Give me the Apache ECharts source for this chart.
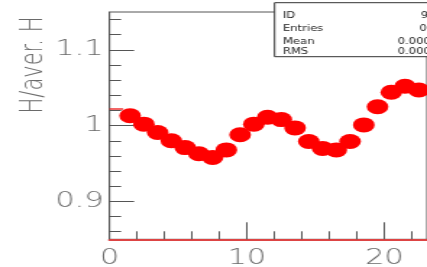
<!DOCTYPE html>
<html>
<head>
<meta charset="utf-8">
<script src="https://cdn.jsdelivr.net/npm/echarts@6/dist/echarts.min.js"></script>
<style>
  html, body { margin: 0; padding: 0; background: #fff; overflow: hidden; }
  /* the reference is stretched sideways, so draw narrow and scale in x */
  #chart { width: 295px; height: 267px; transform: scaleX(1.4475); transform-origin: 0 0; }
</style>
</head>
<body>
<div id="chart"></div>
<script>
// points (bin centres) and ratio values
const xValues = [1.5, 2.5, 3.5, 4.5, 5.5, 6.5, 7.5, 8.5, 9.5, 10.5, 11.5,
  12.5, 13.5, 14.5, 15.5, 16.5, 17.5, 18.5, 19.5, 20.5, 21.5, 22.5];
const ratios = [1.013, 1.002, 0.991, 0.980, 0.971, 0.963, 0.958, 0.968, 0.988, 1.002, 1.011,
  1.008, 0.997, 0.979, 0.970, 0.968, 0.979, 1.001, 1.025, 1.044, 1.052, 1.047];
// short red histogram step at the left edge
const stepX = [0, 1];
const stepY = [1.022, 1.022];

const yMajor = [0.9, 1, 1.1];
const yMinor = [0.86, 0.88, 0.9, 0.92, 0.94, 0.96, 0.98, 1, 1.02, 1.04, 1.06, 1.08, 1.1, 1.12, 1.14];
const xMajor = [0, 10, 20];
const xMinor = [2, 4, 6, 8, 12, 14, 16, 18, 22];

const statNames = ['ID', 'Entries', 'Mean', 'RMS'];
const statValues = ['9', '0', '0.0000', '0.0000'];

const chart = echarts.init(document.getElementById('chart'));

const font = 'DejaVu Sans';
const labelStyle = { color: '#6a6a6a', fontSize: 21, fontFamily: font, fontWeight: 200 };

const statRowsY = [15.7, 29.3, 42.3, 52.3];
const statValueX = [290.8, 289.7, 274.7, 274.7];

const statGraphics = [{
  type: 'rect',
  shape: { x: 189.7, y: 2.7, width: 130, height: 54 },
  style: { fill: '#fff', stroke: '#333', lineWidth: 1 },
  z: 100
}];
statNames.forEach((n, i) => {
  statGraphics.push({
    type: 'text', x: 195.4, y: statRowsY[i], z: 101,
    style: { text: n, fill: '#222', font: '8px ' + font, textVerticalAlign: 'middle' }
  });
  statGraphics.push({
    type: 'text', x: statValueX[i], y: statRowsY[i], z: 101,
    style: { text: statValues[i], fill: '#222', font: '8px ' + font, textVerticalAlign: 'middle' }
  });
});

const option = {
  animation: false,
  backgroundColor: '#fff',
  grid: {
    left: 75.65, right: 0, top: 12, bottom: 27.7,
    outerBoundsMode: 'none', containLabel: false,
    show: true, borderColor: '#555', borderWidth: 1
  },
  xAxis: [{
    type: 'value', min: 0, max: 23.1,
    axisLine: { show: true, onZero: false, lineStyle: { color: '#d44', width: 2 } },
    axisTick: { show: true, inside: true, length: 17, customValues: xMajor, lineStyle: { color: '#555' } },
    axisLabel: { customValues: xMajor, margin: 9, ...labelStyle },
    splitLine: { show: false }
  }, {
    type: 'value', min: 0, max: 23.1, position: 'bottom',
    axisLine: { show: false },
    axisTick: { show: true, inside: true, length: 8, customValues: xMinor, lineStyle: { color: '#555' } },
    axisLabel: { show: false },
    splitLine: { show: false }
  }],
  yAxis: [{
    type: 'value', min: 0.85, max: 1.15,
    axisLine: { show: true, onZero: false, lineStyle: { color: '#555', width: 1 } },
    axisTick: { show: true, inside: true, length: 17, customValues: yMajor, lineStyle: { color: '#555' } },
    axisLabel: { customValues: yMajor, margin: 4, formatter: v => String(Math.round(v * 10) / 10), ...labelStyle },
    splitLine: { show: false }
  }, {
    type: 'value', min: 0.85, max: 1.15, position: 'left', offset: 0,
    axisLine: { show: false },
    axisTick: { show: true, inside: true, length: 8, customValues: yMinor, lineStyle: { color: '#555' } },
    axisLabel: { show: false },
    splitLine: { show: false }
  }],
  graphic: [{
    type: 'text', x: 23.5, y: 65, rotation: Math.PI / 2, z: 50,
    style: { text: 'H/aver. H', fill: '#6a6a6a', font: '200 21px ' + font, textAlign: 'center', textVerticalAlign: 'middle' }
  }].concat(statGraphics),
  series: [{
    type: 'line',
    data: stepX.map((x, i) => [x, stepY[i]]),
    showSymbol: false,
    lineStyle: { color: '#e33', width: 1.5 },
    z: 3
  }, {
    type: 'scatter',
    data: xValues.map((x, i) => [x, ratios[i]]),
    symbol: 'circle',
    symbolSize: 15,
    itemStyle: { color: '#ff0000', opacity: 1 },
    z: 4
  }]
};

chart.setOption(option);
</script>
</body>
</html>
